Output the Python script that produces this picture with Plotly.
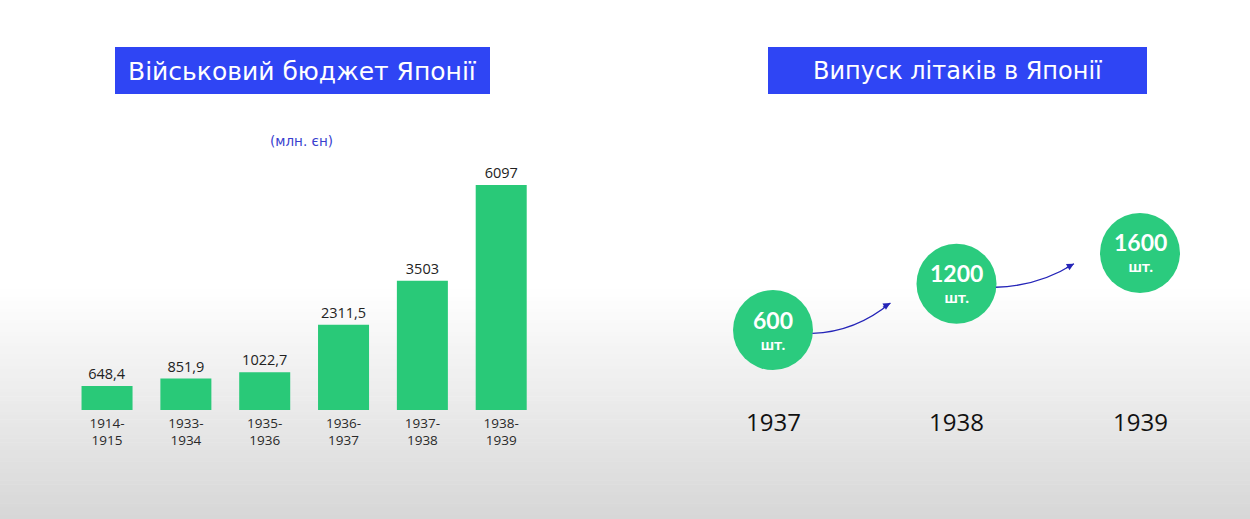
import plotly.graph_objects as go

# ---- data ----
budget_periods = ["1914-<br>1915", "1933-<br>1934", "1935-<br>1936", "1936-<br>1937", "1937-<br>1938", "1938-<br>1939"]
budget_values = [648.4, 851.9, 1022.7, 2311.5, 3503, 6097]
budget_labels = ["648,4", "851,9", "1022,7", "2311,5", "3503", "6097"]

plane_years = [1937, 1938, 1939]
plane_counts = [600, 1200, 1600]
plane_unit = "шт."

title_left = "Військовий бюджет Японії"
title_right = "Випуск літаків в Японії"
unit_label = "(млн. єн)"

W, H = 1250, 519
def py(pix):  # pixel-from-top -> paper y
    return 1 - pix / H
def px(pix):
    return pix / W

fig = go.Figure()

fig.add_trace(go.Bar(
    x=budget_periods, y=budget_values,
    text=budget_labels, textposition="outside",
    textfont=dict(family="Open Sans", size=14.5, color="#222222"),
    marker=dict(color="#29C978", line=dict(width=0)),
    cliponaxis=False, xaxis="x", yaxis="y", hoverinfo="skip",
))

fig.add_trace(go.Scatter(
    x=plane_years, y=plane_counts, mode="markers",
    marker=dict(size=80, color="#2BCB7E", line=dict(width=0)),
    xaxis="x2", yaxis="y2", hoverinfo="skip", cliponaxis=False,
))

# background gradient (decorative)
shapes = []
n = 60
top_start = 290
for i in range(n):
    y0 = top_start + (H - top_start) * i / n
    y1 = top_start + (H - top_start) * (i + 1) / n
    t = (i + 0.5) / n
    g = int(255 - t * 40)
    shapes.append(dict(type="rect", xref="paper", yref="paper", x0=0, x1=1,
                       y0=py(y1), y1=py(y0) + 0.001, fillcolor=f"rgb({g},{g},{g})",
                       line=dict(width=0), layer="below"))

# title boxes
for x0, x1 in [(115, 490), (768, 1147)]:
    shapes.append(dict(type="rect", xref="paper", yref="paper", x0=px(x0), x1=px(x1),
                       y0=py(94), y1=py(47), fillcolor="#2F45F4", line=dict(width=0)))

# curved arrows between circles (geometry derived from circle positions)
arrow_color = "#2525B8"
annotations = []
for i in range(len(plane_years) - 1):
    xa, ya = plane_years[i], plane_counts[i]
    xb, yb = plane_years[i + 1], plane_counts[i + 1]
    sx, sy = xa + 0.215, ya - 45
    ex, ey = xb - 0.36, (yb - 250 if i == 0 else yb - 140)
    cx, cy = sx + (ex - sx) * 0.55, sy + (ey - sy) * 0.05
    shapes.append(dict(type="path", xref="x2", yref="y2",
                       path=f"M {sx},{sy} Q {cx},{cy} {ex},{ey}",
                       line=dict(color=arrow_color, width=1.3)))
    annotations.append(dict(x=ex, y=ey, xref="x2", yref="y2", ax=-9, ay=5,
                            showarrow=True, arrowhead=2, arrowsize=1.1, arrowwidth=1.3,
                            arrowcolor=arrow_color, text=""))

# circle texts
for yr, c in zip(plane_years, plane_counts):
    annotations.append(dict(x=yr, y=c, xref="x2", yref="y2",
                            text=f"<b><span style='font-size:23px'>{c}</span><br>{plane_unit}</b>",
                            xanchor="center", yanchor="middle", yshift=1, showarrow=False,
                            font=dict(family="Lato", size=16, color="white")))

# titles
annotations.append(dict(x=px(302.5), y=py(71), xref="paper", yref="paper", text=title_left,
                        xanchor="center", yanchor="middle", showarrow=False,
                        font=dict(family="DejaVu Sans", size=25, color="white")))
annotations.append(dict(x=px(957.5), y=py(71), xref="paper", yref="paper", text=title_right,
                        xanchor="center", yanchor="middle", showarrow=False,
                        font=dict(family="DejaVu Sans", size=24, color="white")))
annotations.append(dict(x=px(301), y=py(141), xref="paper", yref="paper", text=unit_label,
                        xanchor="center", yanchor="middle", showarrow=False,
                        font=dict(family="DejaVu Sans", size=13.5, color="#3A3FCF")))

# year labels
for yr in plane_years:
    annotations.append(dict(x=yr, y=py(421), xref="x2", yref="paper", text=str(yr),
                            xanchor="center", yanchor="middle", showarrow=False,
                            font=dict(family="Open Sans", size=24, color="#111111")))

fig.update_layout(
    width=W, height=H, margin=dict(l=0, r=0, t=0, b=0),
    paper_bgcolor="white", plot_bgcolor="rgba(0,0,0,0)",
    showlegend=False, bargap=0.353,
    shapes=shapes, annotations=annotations,
    xaxis=dict(domain=[0.0541, 0.4325], range=[-0.5, 5.5], showline=False, showgrid=False,
               zeroline=False, ticks="", fixedrange=True, ticklabelstandoff=3,
               tickfont=dict(family="Open Sans", size=13.5, color="#2A2A2A")),
    yaxis=dict(domain=[0.210, 0.7077], range=[0, 7000], visible=False, showgrid=False,
               zeroline=False, fixedrange=True),
    xaxis2=dict(domain=[0.545, 0.9854], range=[1936.5, 1939.5], visible=False,
                anchor="y2", fixedrange=True),
    yaxis2=dict(domain=[0.2751, 0.5719], range=[0, 2000], visible=False,
                anchor="x2", fixedrange=True),
)

fig.write_html("out.html")
